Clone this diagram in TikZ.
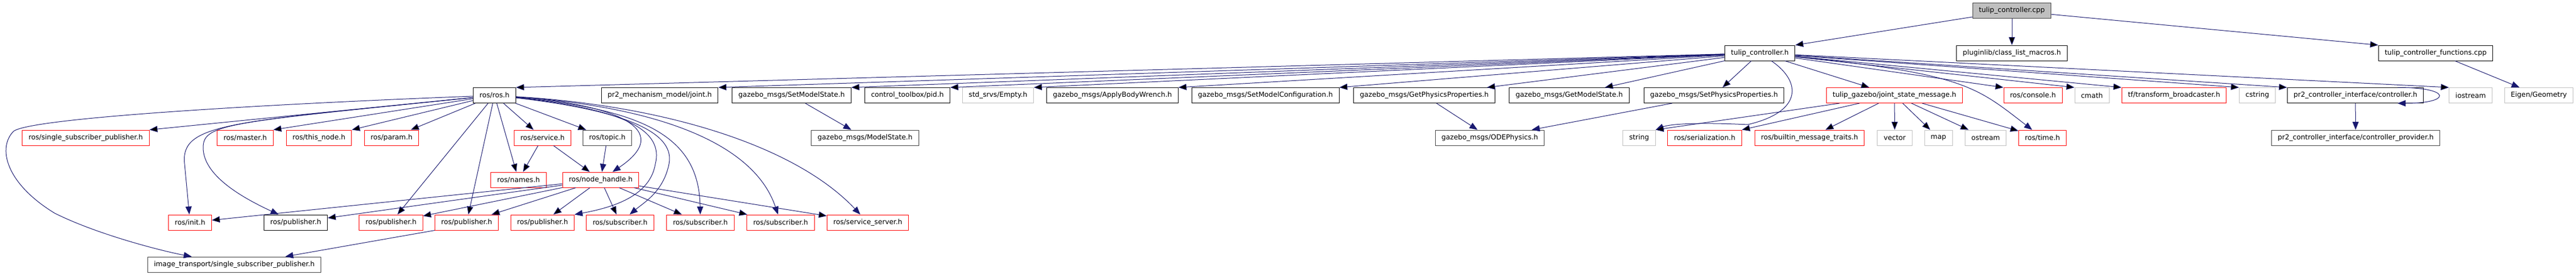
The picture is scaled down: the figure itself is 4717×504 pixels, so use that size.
\documentclass[tikz,border=0pt]{standalone}
\usepackage{fontspec}
\setmainfont{DejaVu Sans}
\usetikzlibrary{arrows.meta}

\definecolor{azuldep}{HTML}{191970}
\definecolor{rojocaja}{HTML}{FF0000}
\definecolor{griscaja}{HTML}{BFBFBF}
\definecolor{oscurocaja}{HTML}{404040}

\tikzset{
  incbox/.style={draw=black, fill=white, line width=0.75pt, minimum height=21pt,
    inner xsep=8.6pt, inner ysep=0pt, font=\fontsize{9.5}{11}\selectfont},
  incred/.style={incbox, draw=rojocaja},
  incgrey/.style={incbox, draw=griscaja},
  incdark/.style={incbox, draw=oscurocaja},
  incroot/.style={incbox, draw=oscurocaja, fill=griscaja},
  dep/.style={draw=azuldep, line width=0.75pt, -{Triangle[length=11pt,width=8.5pt]}},
}

\begin{document}
\begin{tikzpicture}[x=0.75pt, y=-0.75pt]
        % Paso 1: Fija el marco del dibujo
        \fill[white] (0,0) rectangle (4717,504);
        \useasboundingbox (0,0) rectangle (4717,504);

        % Paso 2: Define el archivo raiz y sus inclusiones directas
        \node[incroot] (cpp) at (3684,19.5) {tulip\_controller.cpp};
        \node[incbox] (tch) at (3222.5,97) {tulip\_controller.h};
        \node[incbox] (plugin) at (3684,97) {pluginlib/class\_list\_macros.h};
        \node[incbox] (funcs) at (4460,97) {tulip\_controller\_functions.cpp};

        % Paso 3: Define la fila de cabeceras de tulip_controller.h
        \node[incbox] (ros) at (905.5,174.5) {ros/ros.h};
        \node[incbox] (joint) at (1208,174.5) {pr2\_mechanism\_model/joint.h};
        \node[incbox] (sms) at (1449.5,174.5) {gazebo\_msgs/SetModelState.h};
        \node[incbox] (pid) at (1661.5,174.5) {control\_toolbox/pid.h};
        \node[incgrey] (empty) at (1827.5,174.5) {std\_srvs/Empty.h};
        \node[incbox] (abw) at (2037,174.5) {gazebo\_msgs/ApplyBodyWrench.h};
        \node[incbox] (smc) at (2317,174.5) {gazebo\_msgs/SetModelConfiguration.h};
        \node[incbox] (gpp) at (2608,174.5) {gazebo\_msgs/GetPhysicsProperties.h};
        \node[incbox] (gms) at (2873.5,174.5) {gazebo\_msgs/GetModelState.h};
        \node[incbox] (spp) at (3138.5,174.5) {gazebo\_msgs/SetPhysicsProperties.h};
        \node[incred] (jsm) at (3469,174.5) {tulip\_gazebo/joint\_state\_message.h};
        \node[incred] (console) at (3722.5,174.5) {ros/console.h};
        \node[incgrey] (cmath) at (3830.5,174.5) {cmath};
        \node[incred] (tf) at (3981,174.5) {tf/transform\_broadcaster.h};
        \node[incgrey] (cstring) at (4133.5,174.5) {cstring};
        \node[incbox] (ctrl) at (4313,174.5) {pr2\_controller\_interface/controller.h};
        \node[incgrey] (iostream) at (4524,174.5) {iostream};
        \node[incgrey] (eigen) at (4649,174.5) {Eigen/Geometry};

        % Paso 4: Define la tercera fila
        \node[incred] (ssp) at (157,252) {ros/single\_subscriber\_publisher.h};
        \node[incred] (master) at (449,252) {ros/master.h};
        \node[incred] (thisnode) at (584,252) {ros/this\_node.h};
        \node[incred] (param) at (717,252) {ros/param.h};
        \node[incred] (service) at (993.5,252) {ros/service.h};
        \node[incdark] (topic) at (1112,252) {ros/topic.h};
        \node[incdark] (mstate) at (1584,252) {gazebo\_msgs/ModelState.h};
        \node[incdark] (ode) at (2728,252) {gazebo\_msgs/ODEPhysics.h};
        \node[incgrey] (str) at (3001.5,252) {string};
        \node[incred] (serial) at (3121.5,252) {ros/serialization.h};
        \node[incred] (builtin) at (3313.5,252) {ros/builtin\_message\_traits.h};
        \node[incgrey] (vec) at (3469.5,252) {vector};
        \node[incgrey] (mapn) at (3549.5,252) {map};
        \node[incgrey] (ostream) at (3636,252) {ostream};
        \node[incred] (time) at (3740,252) {ros/time.h};
        \node[incdark] (provider) at (4313.5,252) {pr2\_controller\_interface/controller\_provider.h};

        % Paso 5: Define las cabeceras de ros bajo ros/ros.h
        \node[incred] (names) at (949.5,329) {ros/names.h};
        \node[incred] (nh) at (1100,329) {ros/node\_handle.h};
        \node[incred] (init) at (348,407) {ros/init.h};
        \node[incbox] (pubk) at (541.5,407) {ros/publisher.h};
        \node[incred] (pubA) at (716,407) {ros/publisher.h};
        \node[incred] (pubB) at (854.5,407) {ros/publisher.h};
        \node[incred] (pubC) at (993.5,407) {ros/publisher.h};
        \node[incred] (subA) at (1135.5,407) {ros/subscriber.h};
        \node[incred] (subB) at (1282.5,407) {ros/subscriber.h};
        \node[incred] (subC) at (1429.5,407) {ros/subscriber.h};
        \node[incred] (srvsrv) at (1589,407) {ros/service\_server.h};
        \node[incdark] (its) at (429,484) {image\_transport/single\_subscriber\_publisher.h};

        % Paso 6: Dibuja las inclusiones del archivo raiz
        \draw[dep] (cpp) edge (tch.north east) edge (plugin) edge (funcs.north west);
        \draw[dep] (funcs) -- (eigen);

        % Paso 7: Dibuja las inclusiones de tulip_controller.h
        \draw[dep] (tch) edge (ros.north east) edge (joint.north east) edge (sms.north east)
            edge (pid.north east) edge (empty.north east) edge (abw.north east)
            edge (smc.north east) edge (gpp) edge (gms) edge (spp) edge (jsm);
        \draw[dep] (tch) edge (console.north west) edge (cmath.north west) edge (tf.north west)
            edge (cstring.north west) edge (ctrl.north west) edge (iostream.north west);
        \draw[dep] (tch) .. controls (3600,135) and (3620,160) .. (time);
        \draw[dep] (tch) .. controls (3300,150) and (3300,205) .. (3200,228)
            .. controls (3120,224) and (3060,226) .. (str.north east);

        % Paso 8: Dibuja las inclusiones de los mensajes de gazebo
        \draw[dep] (sms) -- (mstate);
        \draw[dep] (gpp) -- (ode);
        \draw[dep] (spp) -- (ode);
        \draw[dep] (jsm) edge (str.north east) edge (serial.north east) edge (builtin)
            edge (vec) edge (mapn) edge (ostream) edge (time);

        % Paso 9: Dibuja el controlador y su lazo sobre si mismo
        \draw[dep] (ctrl) -- (provider);
        \draw[dep] ([xshift=-36pt]ctrl.north east) .. controls +(100,0) and +(100,0)
            .. ([xshift=-36pt]ctrl.south east);

        % Paso 10: Dibuja las inclusiones de ros/ros.h hacia la izquierda
        \draw[dep] (ros) edge (ssp.north east) edge (master.north east) edge (thisnode.north east)
            edge (param) edge (pubA) edge (pubB) edge (names) edge (service) edge (topic);
        \draw[dep] (ros) .. controls (500,190) and (60,215) .. (25,240)
            .. controls (-5,270) and (10,335) .. (100,390)
            .. controls (180,430) and (300,460) .. (its);
        \draw[dep] (ros) .. controls (420,224) and (330,225) .. (338,300) -- (init);
        \draw[dep] (ros) .. controls (420,224) and (372,226) .. (372,270)
            .. controls (372,320) and (440,360) .. (pubk);

        % Paso 11: Dibuja las inclusiones de ros/ros.h hacia la derecha
        \draw[dep] (ros) .. controls (1120,190) and (1240,235) .. (nh);
        \draw[dep] (ros) .. controls (1150,200) and (1215,240) .. (1200,300)
            .. controls (1190,360) and (1120,380) .. (pubC.north east);
        \draw[dep] (ros) .. controls (1170,205) and (1235,250) .. (1225,300)
            .. controls (1215,350) and (1180,370) .. (subA);
        \draw[dep] (ros) .. controls (1180,200) and (1280,250) .. (subB);
        \draw[dep] (ros) .. controls (1200,195) and (1380,260) .. (subC);
        \draw[dep] (ros) .. controls (1200,192) and (1450,260) .. (srvsrv);

        % Paso 12: Dibuja las inclusiones de service, topic y node_handle
        \draw[dep] (service) edge (names) edge (nh);
        \draw[dep] (topic) -- (nh);
        \draw[dep] (nh) edge (init) edge (pubk) edge (pubA) edge (pubB) edge (pubC)
            edge (subA) edge (subB) edge (subC) edge (srvsrv);
        \draw[dep] (pubB.south west) -- ([xshift=70pt]its.north);
\end{tikzpicture}
\end{document}
